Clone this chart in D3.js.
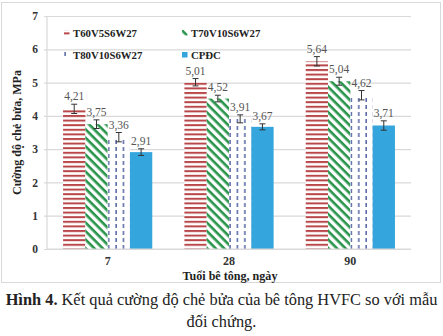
<!DOCTYPE html>
<html>
<head>
<meta charset="utf-8">
<script src="https://cdn.jsdelivr.net/npm/d3@7"></script>
<style>
  html, body { margin: 0; padding: 0; background: #fff; }
  svg { display: block; }
  svg text { font-family: "Liberation Serif", "Times New Roman", serif; }
</style>
</head>
<body>
<svg id="chart" width="443" height="336"></svg>
<script>
// categories (age, days) and series
const ages = ['7', '28', '90']
const series = ['T60V5S6W27', 'T70V10S6W27', 'T80V10S6W27', 'CPĐC']

// splitting tensile strength, MPa (one array per series, in age order)
const t60 = [4.21, 5.01, 5.64]
const t70 = [3.75, 4.52, 5.04]
const t80 = [3.36, 3.91, 4.62]
const cpdc = [2.91, 3.67, 3.71]

// error bar half-widths
const t60Err = [0.14, 0.11, 0.14]
const t70Err = [0.13, 0.10, 0.12]
const t80Err = [0.14, 0.12, 0.14]
const cpdcErr = [0.10, 0.09, 0.14]

const yTicks = [0, 1, 2, 3, 4, 5, 6, 7]

const values = [t60, t70, t80, cpdc]
const errors = [t60Err, t70Err, t80Err, cpdcErr]

const svg = d3.select('#chart')

// resize a text node so it spans the given width
function fitText(sel, target) {
  const size = +sel.attr('font-size')
  const w = sel.node().getComputedTextLength()
  sel.attr('font-size', size * target / w)
  return size * target / w
}

// scales
const x0 = d3.scaleBand().domain(ages).range([47, 411])
const x1 = d3.scaleBand().domain(series).range([0, x0.bandwidth()]).paddingOuter(0.72)
const y = d3.scaleLinear().domain([0, 7]).range([249, 16])

// fill patterns
const defs = svg.append('defs')

const pRed = defs.append('pattern')
  .attr('id', 'p-red')
  .attr('patternUnits', 'userSpaceOnUse')
  .attr('width', 6).attr('height', 4.6)
pRed.append('rect').attr('width', 6).attr('height', 4.6).attr('fill', '#fff')
pRed.append('rect').attr('y', 0).attr('width', 6).attr('height', 2).attr('fill', '#b9474a')

// diagonal stripes running top-left to bottom-right
const pGreen = defs.append('pattern')
  .attr('id', 'p-green')
  .attr('patternUnits', 'userSpaceOnUse')
  .attr('width', 6).attr('height', 6)
  .attr('patternTransform', 'rotate(45)')
pGreen.append('rect').attr('width', 6).attr('height', 6).attr('fill', '#fff')
pGreen.append('rect').attr('width', 6).attr('height', 2.6).attr('fill', '#27944a')

const pBlue = defs.append('pattern')
  .attr('id', 'p-dash')
  .attr('patternUnits', 'userSpaceOnUse')
  .attr('width', 7.4).attr('height', 7)
pBlue.append('rect').attr('width', 7.4).attr('height', 7).attr('fill', '#fff')
pBlue.append('rect').attr('x', 0.4).attr('y', 0).attr('width', 1.3).attr('height', 4).attr('fill', '#3c4f96')

const fills = ['url(#p-red)', 'url(#p-green)', 'url(#p-dash)', '#34a5dd']

// outer frame
svg.append('rect')
  .attr('x', 1.5).attr('y', 2.5)
  .attr('width', 439).attr('height', 280)
  .attr('fill', 'none')
  .attr('stroke', '#d9d9d9')

// y axis with gridlines
const yAxis = d3.axisLeft(y)
  .tickValues(yTicks)
  .tickSize(-364)
  .tickFormat(d3.format('d'))
const yG = svg.append('g')
  .attr('transform', 'translate(47,0)')
  .call(yAxis)
  .attr('font-family', null)
yG.select('.domain').remove()
yG.selectAll('.tick line')
  .attr('x1', -3)
  .attr('stroke', '#d9d9d9')
  .attr('stroke-width', 1.2)
yG.selectAll('.tick text')
  .attr('x', -9)
  .attr('font-weight', 'bold')
  .attr('font-size', 11.5)
  .attr('fill', '#333')

svg.append('line')
  .attr('x1', 47).attr('x2', 47)
  .attr('y1', y(7)).attr('y2', y(0))
  .attr('stroke', '#d9d9d9')
  .attr('stroke-width', 1.2)

// bars
const rows = []
ages.forEach((age, i) => {
  series.forEach((s, j) => {
    rows.push({ age: age, s: s, j: j, v: values[j][i], e: errors[j][i] })
  })
})

const bars = svg.append('g')
  .selectAll('g')
  .data(rows)
  .enter()
  .append('g')
  .attr('transform', d => `translate(${x0(d.age) + x1(d.s)},0)`)

bars.append('rect')
  .attr('x', 0)
  .attr('width', x1.bandwidth())
  .attr('y', d => y(d.v))
  .attr('height', d => y(0) - y(d.v))
  .attr('fill', d => fills[d.j])

// error bars
const cx = x1.bandwidth() / 2
bars.append('line')
  .attr('x1', cx).attr('x2', cx)
  .attr('y1', d => y(d.v + d.e))
  .attr('y2', d => y(d.v - d.e))
  .attr('stroke', '#333')
  .attr('stroke-width', 1)
bars.selectAll('line.cap')
  .data(d => [d.v + d.e, d.v - d.e])
  .enter()
  .append('line')
  .attr('class', 'cap')
  .attr('x1', cx - 3).attr('x2', cx + 3)
  .attr('y1', d => y(d)).attr('y2', d => y(d))
  .attr('stroke', '#333')
  .attr('stroke-width', 1)

// value labels
bars.append('text')
  .attr('x', cx)
  .attr('y', d => y(d.v + d.e) - 4)
  .attr('text-anchor', 'middle')
  .attr('font-size', 11.5)
  .attr('fill', '#555')
  .text(d => d3.format('.2f')(d.v).replace('.', ','))

// baseline
svg.append('line')
  .attr('x1', 47).attr('x2', 411)
  .attr('y1', y(0)).attr('y2', y(0))
  .attr('stroke', '#d9d9d9')
  .attr('stroke-width', 1.2)

// category labels
svg.append('g')
  .selectAll('text')
  .data(ages)
  .enter()
  .append('text')
  .attr('x', d => x0(d) + x0.bandwidth() / 2)
  .attr('y', 265)
  .attr('text-anchor', 'middle')
  .attr('font-weight', 'bold')
  .attr('font-size', 12)
  .attr('fill', '#333')
  .text(d => d)

// axis titles
const xTitle = svg.append('text')
  .attr('x', 230)
  .attr('y', 280)
  .attr('text-anchor', 'middle')
  .attr('font-weight', 'bold')
  .attr('font-size', 12)
  .attr('fill', '#222')
  .text('Tuổi bê tông, ngày')
fitText(xTitle, 95)

const yTitle = svg.append('text')
  .attr('transform', `translate(21,${(y(0) + y(7)) / 2}) rotate(-90)`)
  .attr('text-anchor', 'middle')
  .attr('font-weight', 'bold')
  .attr('font-size', 12)
  .attr('fill', '#222')
  .text('Cường độ chẻ bửa, MPa')
fitText(yTitle, 125)

// legend
const legendPos = [[64, 37], [182, 37], [64, 59], [182, 59]]
const legend = svg.append('g')
  .selectAll('g')
  .data(series)
  .enter()
  .append('g')
  .attr('transform', (d, i) => `translate(${legendPos[i][0]},${legendPos[i][1]})`)
legend.append('rect')
  .attr('x', 0).attr('y', -7)
  .attr('width', 5.5).attr('height', 5.5)
  .attr('fill', (d, i) => fills[i])
const legendText = legend.append('text')
  .attr('x', 9)
  .attr('y', 0)
  .attr('font-weight', 'bold')
  .attr('font-size', 11.5)
  .attr('fill', '#222')
  .text(d => d)
const legendSize = fitText(legendText.filter((d, i) => i === 0), 64)
legendText.attr('font-size', legendSize)

// caption
const cap1 = svg.append('text')
  .attr('x', 221.5)
  .attr('y', 305)
  .attr('text-anchor', 'middle')
  .attr('font-size', 15)
  .attr('fill', '#222')
cap1.append('tspan').attr('font-weight', 'bold').text('Hình 4.')
cap1.append('tspan').text(' Kết quả cường độ chẻ bửa của bê tông HVFC so với mẫu')
const capSize = fitText(cap1, 432)

svg.append('text')
  .attr('x', 221.5)
  .attr('y', 327)
  .attr('text-anchor', 'middle')
  .attr('font-size', capSize)
  .attr('fill', '#222')
  .text('đối chứng.')
</script>
</body>
</html>
